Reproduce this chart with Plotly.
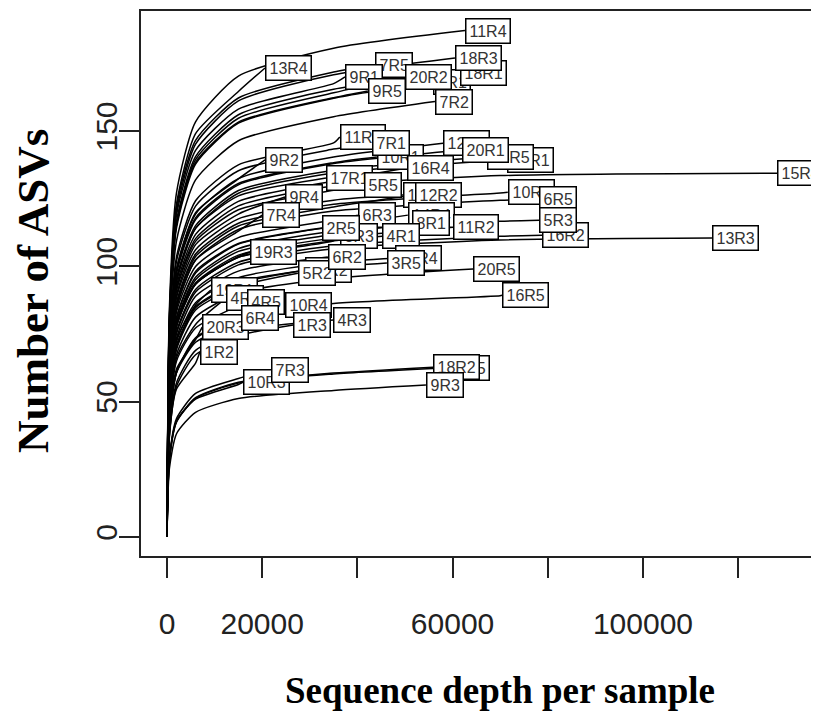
import plotly.graph_objects as go

# ---- data (end of each rarefaction curve + a few checkpoints) ----
samples = ["15R1","15R5","12R1","20R1","11R1","10R1","7R1","16R4","3R1","18R1",
           "7R5","9R1","20R2","18R3","9R5","7R2","11R4","13R4","9R2","17R1",
           "5R5","17R3","12R2","9R4","7R4","6R3","14R4","11R2","8R1","8R3",
           "2R5","4R1","10R2","6R5","16R2","5R3","15R4","13R3","19R3","14R2",
           "5R2","6R2","12R4","3R5","20R5","16R5","19R1","4R2","4R5","10R4",
           "20R3","6R4","1R3","4R3","1R2","10R3","7R3","18R5","18R2","9R3"]

end_depth = [71400,67200,58000,62000,36300,44100,43100,50400,55900,61600,
             43700,37400,50000,60500,42200,56300,62600,20600,20600,33400,
             41400,49600,52100,24800,20000,40100,50600,60100,51500,36300,
             32600,45200,71600,78200,78800,78200,128200,114500,17400,29000,
             27500,33800,47900,46200,64300,70400,9200,12400,16800,24800,
             7400,15500,26500,34900,6900,16000,21800,58000,55900,54400]

end_rich = [139.4,140.4,145.5,143,147.8,140.4,145.5,136.3,168,171.4,
            174.4,170,170,177,164.8,160.9,187.1,173.3,139.3,132.6,
            130,126.3,126.3,125.6,118.9,118.9,118.9,114.4,115.9,111.1,
            114.1,111.1,127.4,124.8,111.5,117,134.4,110.4,105.2,98.5,
            97.4,103.4,103,101.2,99,89.3,91.2,88.2,86.7,85.6,
            77.5,80.8,78.3,80.1,68.3,57.2,61.6,62.4,62.7,56.1]

rich_500 = [63,63,65.5,64.4,68,64.6,66.9,61.3,75.6,77.1,
            80.2,78.2,76.5,79.7,75.8,72.4,84.2,81.5,65.5,62.3,
            59.8,58.1,56.8,59,55.9,54.7,53.5,51.5,52.2,51.1,
            53.6,51.1,57.3,56.2,50.2,52.7,60.5,49.7,52.6,46.3,
            45.8,48.6,47.4,46.6,44.6,40.2,50.2,44.1,43.4,40.2,
            42.6,40.4,36.8,37.6,37.6,28.6,29,28.1,28.2,25.2]

rich_2k = [95,95.5,98.9,97.2,103.5,98.3,101.9,92.7,114.2,116.6,
           122.1,119,115.6,120.4,115.4,109.4,127.2,123,98.9,94.1,
           91,88.4,85.9,89.2,84.4,83.2,80.9,77.8,78.8,77.8,
           81,77.8,86.6,84.9,75.8,79.6,91.4,75.1,78.9,69.9,
           69.2,73.4,72.1,70.8,67.3,60.7,73,66.2,65,60.8,
           62,60.6,55.6,56.9,54.6,42.9,43.7,42.4,42.6,38.1]

rich_6k = [114,115,119.3,117.3,124.2,117.9,122.2,111.8,137.8,140.5,
           146.5,142.8,139.4,145.1,138.4,131.9,153.4,149,119.8,114,
           109.2,106.1,103.6,108,102.3,99.9,97.5,93.8,95,93.3,
           98.1,93.3,104.5,102.3,91.4,95.9,110.2,90.5,93.6,84.7,
           83.8,88.9,86.5,85,81.2,73.2,85.7,78.5,77.2,73.6,
           72.9,71.9,67.3,68.9,64.2,50.9,53,51.2,51.4,46]

rich_15k = [127,128,132.4,130.1,137.5,130.6,135.3,124,152.9,156,
            162.2,158.1,154.7,161.1,153.3,146.4,170.3,164.6,132.3,126,
            120.9,117.5,114.9,119.3,113,110.6,108.2,104.1,105.5,103.3,
            108.4,103.3,115.9,113.6,101.5,106.5,122.3,100.5,103.6,93.6,
            92.5,98.2,95.8,94.1,90.1,81.3,None,None,85.4,81.3,
            None,79.6,74.4,76.1,None,56.3,58.5,56.8,57.1,51.1]

rich_35k = [134.5,135.5,140.4,138,145.6,138.3,143.3,131.5,162.1,165.4,
            171.8,167.5,164.1,170.8,162.3,155.3,180.6,None,None,None,
            128.1,124.4,121.9,None,None,117.1,114.7,110.4,111.8,109.4,
            None,109.4,122.9,120.4,107.6,112.9,129.7,106.5,None,None,
            None,None,101.5,99.7,95.5,86.2,None,None,None,None,
            None,None,None,None,None,None,None,60.2,60.5,54.1]

rich_70k = [139.2,None,None,None,None,None,None,None,None,None,
            None,None,None,None,None,None,None,None,None,None,
            None,None,None,None,None,None,None,None,None,None,
            None,None,127.1,124.4,111.1,116.6,133.5,109.7,None,None,
            None,None,None,None,None,89.1,None,None,None,None,
            None,None,None,None,None,None,None,None,None,None]

checkpoint_depths = [500, 2000, 6000, 15000, 35000, 70000]

x_tick_values = [0, 20000, 40000, 60000, 80000, 100000, 120000]
x_tick_labels = ["0", "20000", "", "60000", "", "100000", ""]
y_tick_values = [0, 50, 100, 150]
y_tick_labels = ["0", "50", "100", "150"]

# ---- build curves ----
checkpoint_values = [rich_500, rich_2k, rich_6k, rich_15k, rich_35k, rich_70k]
xs, ys = [], []
for i, name in enumerate(samples):
    cx, cy = [0], [0]
    for d, vals in zip(checkpoint_depths, checkpoint_values):
        if vals[i] is not None and d < end_depth[i]:
            cx.append(d)
            cy.append(vals[i])
    cx.append(end_depth[i])
    cy.append(end_rich[i])
    xs += cx + [None]
    ys += cy + [None]

fig = go.Figure()
fig.add_trace(go.Scatter(x=xs, y=ys, mode="lines",
                         line=dict(color="black", width=1.5, shape="spline", smoothing=0.6),
                         hoverinfo="skip", showlegend=False))

for i, name in enumerate(samples):
    fig.add_annotation(x=end_depth[i], y=end_rich[i], text=name,
                       xanchor="left", yanchor="middle", showarrow=False,
                       bgcolor="white", bordercolor="black", borderwidth=1.5,
                       borderpad=3,
                       font=dict(family="Liberation Sans, Arial", size=16, color="#333"))

# page has an 8px body margin: plot area spans page x 141..827, y 11..556
W, H = 819, 711
ML, MT, MB = 133, 3, 163
plot_w = W - ML
plot_h = H - MT - MB

tick_font = dict(family="Liberation Sans, Arial", size=30, color="#222")
fig.update_xaxes(range=[-5463, 138666], tickvals=x_tick_values, ticktext=x_tick_labels,
                 ticks="outside", ticklen=20, tickwidth=1.5, tickcolor="#222",
                 showline=True, linewidth=1.5, linecolor="#222", mirror=True,
                 showgrid=False, zeroline=False, tickfont=tick_font,
                 ticklabelstandoff=20, automargin=False)
fig.update_yaxes(range=[-7.1, 194.35], tickvals=y_tick_values, ticktext=y_tick_labels,
                 ticks="outside", ticklen=20, tickwidth=1.5, tickcolor="#222",
                 showline=True, linewidth=1.5, linecolor="#222", mirror=False,
                 showgrid=False, zeroline=False, tickfont=tick_font, tickangle=-90,
                 ticklabelstandoff=-10, automargin=False)

fig.add_annotation(text="<b>Sequence depth per sample</b>", xref="paper", yref="paper",
                   x=(500 - 141) / plot_w, y=-(690 - 556) / plot_h, xanchor="center", yanchor="middle",
                   showarrow=False,
                   font=dict(family="Liberation Serif, Times New Roman", size=37, color="black"))
fig.add_annotation(text="<b>Number of ASVs</b>", xref="paper", yref="paper",
                   x=-(141 - 33) / plot_w, y=(556 - 291) / plot_h, xanchor="center", yanchor="middle",
                   showarrow=False, textangle=-90,
                   font=dict(family="Liberation Serif, Times New Roman", size=45, color="black"))

fig.update_layout(width=W, height=H, margin=dict(l=ML, r=0, t=MT, b=MB, autoexpand=False),
                  plot_bgcolor="white", paper_bgcolor="white")
fig.write_html("out.html")
